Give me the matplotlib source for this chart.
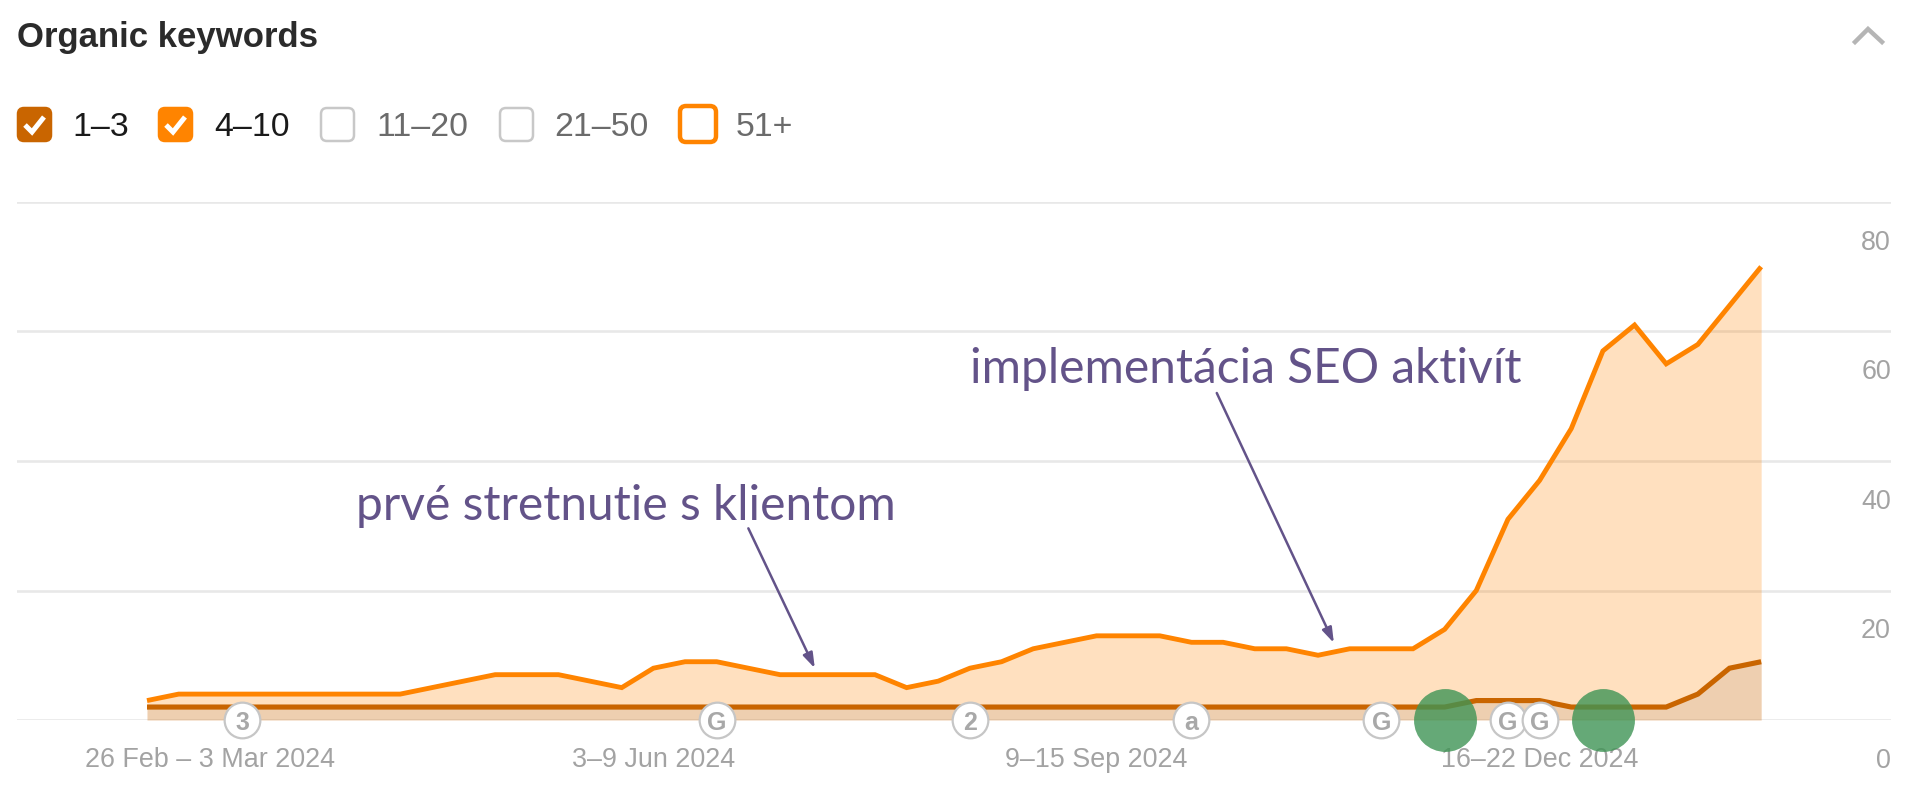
import matplotlib
matplotlib.use("Agg")
import matplotlib.pyplot as plt
from matplotlib.patches import FancyBboxPatch
from matplotlib.transforms import ScaledTranslation

plt.rcParams['font.family'] = ['Liberation Sans', 'DejaVu Sans']

# ---------- data ----------
title = "Organic keywords"
weeks = list(range(52))
kw_4_10 = [3, 4, 4, 4, 4, 4, 4, 4, 4, 5, 6, 7, 7, 7, 6, 5, 8, 9, 9, 8, 7, 7, 7, 7, 5, 6,
           8, 9, 11, 12, 13, 13, 13, 12, 12, 11, 11, 10, 11, 11, 11, 14, 20, 31, 37, 45,
           57, 61, 55, 58, 64, 70]
kw_1_3 = [2] * 42 + [3, 3, 3, 2, 2, 2, 2, 4, 8, 9]
x_tick_pos = [2, 16, 30, 44]
x_tick_labels = ["26 Feb – 3 Mar 2024", "3–9 Jun 2024", "9–15 Sep 2024", "16–22 Dec 2024"]
y_ticks = [0, 20, 40, 60, 80]
event_pos = [3, 18, 26, 33, 39, 43, 44]
event_labels = ["3", "G", "2", "a", "G", "G", "G"]
highlight_pos = [41, 46]
legend_labels = ["1–3", "4–10", "11–20", "21–50", "51+"]
notes = ["prvé stretnutie s klientom", "implementácia SEO aktivít"]
note_tips = [(21.1, 8.0), (37.5, 11.9)]
note_tails = [(19.0, 29.6), (33.8, 50.5)]
note_text_pos = [(6.6, 30.9), (26.0, 52.0)]

# ---------- style ----------
W, H, DPI = 1928, 799, 100
C_ORANGE = "#ff8400"
C_BROWN = "#c96500"
C_TEXT = "#a3a3a3"
C_GRID = "#e8e8e8"
C_NOTE = "#635389"

fig = plt.figure(figsize=(W / DPI, H / DPI), dpi=DPI, facecolor="white")
L, R, T, B = 17, 1891, 202, 720
ax = fig.add_axes([L / W, (H - B) / H, (R - L) / W, (B - T) / H])
ax.set_xlim((L - 147) / 31.65, (R - 147) / 31.65)
ax.set_ylim(0, 80)
for s in ax.spines.values():
    s.set_visible(False)

ax.set_yticks(y_ticks)
ax.grid(axis="y", color=C_GRID, lw=1.9, zorder=1)
ax.set_axisbelow(True)
ax.yaxis.tick_right()
ax.tick_params(axis="y", length=0, pad=0, labelsize=19.4, labelcolor=C_TEXT)
ax.set_xticks(x_tick_pos)
ax.set_xticklabels(x_tick_labels)
ax.tick_params(axis="x", length=0, pad=19.5, labelsize=19.4, labelcolor=C_TEXT)
off = ScaledTranslation(0, -38 / DPI, fig.dpi_scale_trans)
for lab in ax.get_yticklabels():
    lab.set_ha("right")
    lab.set_transform(lab.get_transform() + off)

ax.fill_between(weeks, 0, kw_4_10, color=C_ORANGE, alpha=0.25, lw=0, zorder=2)
ax.fill_between(weeks, 0, kw_1_3, color="#8a6a5a", alpha=0.14, lw=0, zorder=2.1)
ax.plot(weeks, kw_4_10, color=C_ORANGE, lw=3.5, solid_joinstyle="miter", solid_capstyle="butt", zorder=3)
ax.plot(weeks, kw_1_3, color=C_BROWN, lw=3.7, solid_joinstyle="miter", solid_capstyle="butt", zorder=3.1)

for p, t in zip(event_pos, event_labels):
    ax.scatter([p], [0], s=660, facecolor="white", edgecolor="#c6c6c6", lw=1.6,
               clip_on=False, zorder=4)
    ax.text(p, 0, t, ha="center", va="center_baseline", fontsize=18, fontweight="bold",
            color="#a8a8a8", zorder=4.1, clip_on=False)

ax.scatter(highlight_pos, [0, 0], s=2050, color="#3f9455", alpha=0.8, lw=0,
           clip_on=False, zorder=6)

note_font = ["Lato", "DejaVu Sans"]
for txt, tip, tail, pos in zip(notes, note_tips, note_tails, note_text_pos):
    ax.text(pos[0], pos[1], txt, color=C_NOTE, fontsize=34.5, family=note_font,
            ha="left", va="baseline", zorder=5)
    ax.annotate("", xy=tip, xytext=tail, zorder=5,
                arrowprops=dict(arrowstyle="-|>,head_length=0.9,head_width=0.3", color=C_NOTE,
                                lw=1.8, shrinkA=0, shrinkB=0))

# ---------- header overlay, in pixels ----------
ov = fig.add_axes([0, 0, 1, 1], zorder=-1)
ov.set_xlim(0, W)
ov.set_ylim(H, 0)
ov.axis("off")
ov.text(17, 47, title, fontsize=25, fontweight="bold", color="#2b2b2b", ha="left", va="baseline")

boxes = [(17, C_BROWN, C_BROWN, True), (158, C_ORANGE, C_ORANGE, True),
         (320, "white", "#c8c8c8", False), (499, "white", "#c8c8c8", False),
         (679, "white", C_ORANGE, False)]
label_x = [72, 214, 376, 554, 736]
label_c = ["#1a1a1a", "#1a1a1a", "#6b6b6b", "#6b6b6b", "#6b6b6b"]
for (bx, fc, ec, chk), lx, lc, lab in zip(boxes, label_x, label_c, legend_labels):
    orange = ec == C_ORANGE and not chk
    size = 36 if orange else 33
    top = 106 if orange else 108
    ov.add_patch(FancyBboxPatch((bx + 1, top), size, size, boxstyle="round,pad=0,rounding_size=6",
                                fc=fc, ec=ec, lw=3.2 if orange else 1.8))
    if chk:
        ov.plot([bx + 8, bx + 15, bx + 27], [125, 132, 117], color="white", lw=3.6,
                solid_capstyle="butt", solid_joinstyle="miter")
    ov.text(lx, 136, lab, fontsize=24.4, color=lc, ha="left", va="baseline")

ov.plot([1865 - 10, 1878 - 10, 1892 - 10], [42, 29, 42], color="#b5b5b5", lw=3.2, solid_joinstyle="miter")

fig.savefig("out.png", dpi=DPI, facecolor="white")
